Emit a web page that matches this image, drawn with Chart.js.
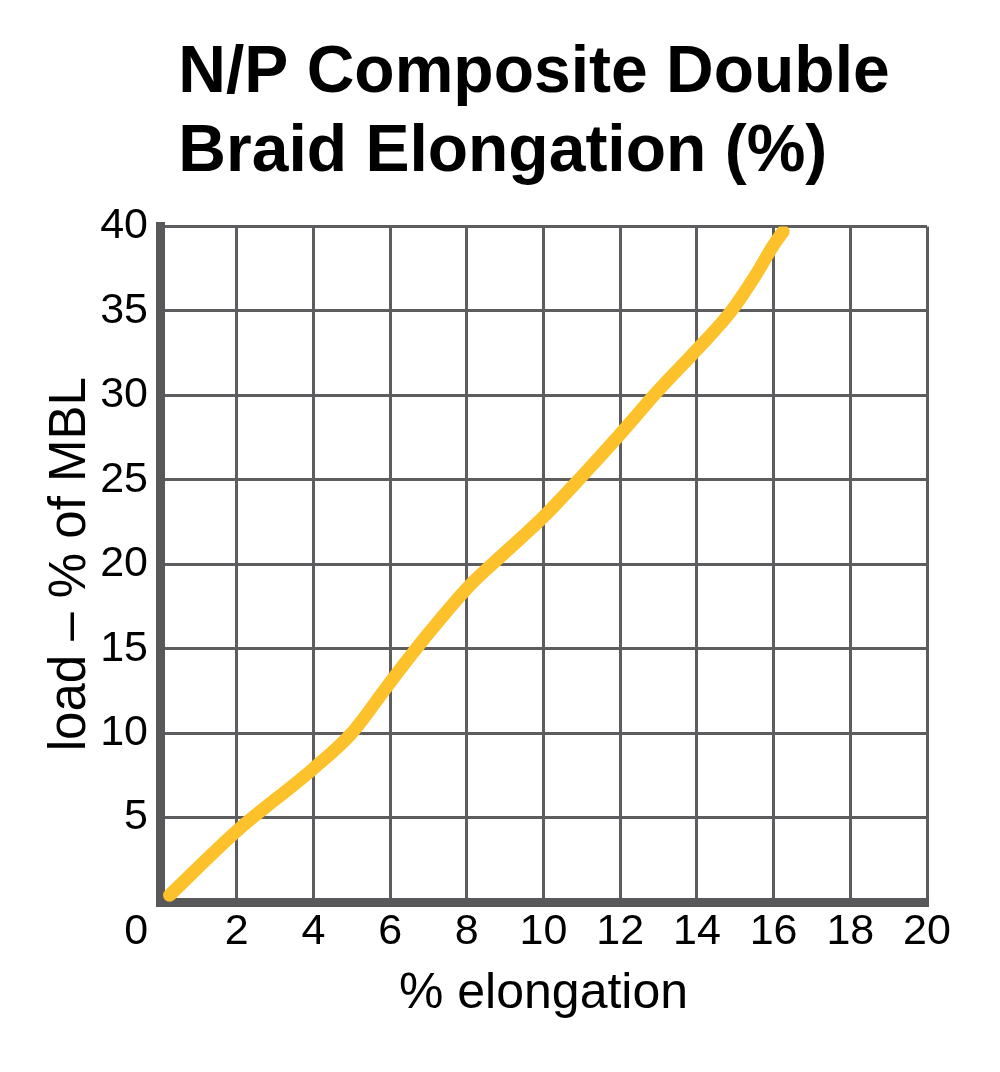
<!DOCTYPE html>
<html>
<head>
<meta charset="utf-8">
<script src="https://cdn.jsdelivr.net/npm/chart.js@4.4.1/dist/chart.umd.min.js"></script>
<style>
  html, body { margin: 0; padding: 0; background: #fff; }
  #wrap { width: 1000px; height: 1072px; }
</style>
</head>
<body>
<div id="wrap"><canvas id="elongChart"></canvas></div>
<script>
// values (x = % elongation, y = load % of MBL)
const elongation = [0.25, 2, 4, 5, 6, 7, 8.1, 9, 10, 11, 12, 13, 14, 14.9, 15.5, 16, 16.25];
const load = [0.4, 4.2, 7.9, 10, 13, 15.9, 18.8, 20.7, 22.8, 25.2, 27.7, 30.3, 32.7, 35, 37, 38.9, 39.7];

const titleLines = [' N/P Composite Double', ' Braid Elongation (%)'];
const xTitle = '% elongation';
const yTitle = 'load \u2013 % of MBL';

const gridColor = '#5d5d5f';
const axisColor = '#58585a';

Chart.defaults.font.family = "'Liberation Sans', Arial, sans-serif";
Chart.defaults.color = '#000';

const points = elongation.map((x, i) => ({ x: x, y: load[i] }));

const ctx = document.getElementById('elongChart').getContext('2d');

const myChart = new Chart(ctx, {
  type: 'line',
  data: {
    datasets: [{
      data: points,
      borderColor: '#fdc22b',
      borderWidth: 13,
      borderCapStyle: 'round',
      borderJoinStyle: 'round',
      cubicInterpolationMode: 'monotone',
      pointRadius: 0,
      fill: false
    }]
  },
  options: {
    responsive: true,
    maintainAspectRatio: false,
    animation: false,
    layout: { padding: { top: 0, right: 73, bottom: 0, left: 0 } },
    plugins: {
      legend: { display: false },
      tooltip: { enabled: false },
      title: {
        display: true,
        text: titleLines,
        align: 'start',
        fullSize: false,
        color: '#000',
        font: { size: 66, weight: 'bold', lineHeight: 1.2 },
        padding: { top: 34, bottom: 34 }
      }
    },
    scales: {
      x: {
        type: 'linear',
        min: 0,
        max: 20,
        z: 1,
        afterFit: s => { s.height = 170; },
        grid: { color: gridColor, lineWidth: 3, drawTicks: false },
        border: { display: true, color: axisColor, width: 9 },
        ticks: {
          stepSize: 2,
          padding: 4,
          autoSkip: false,
          maxRotation: 0,
          minRotation: 0,
          font: { size: 43 },
          color: '#000',
          callback: v => (v === 0 ? '0    ' : v)
        },
        title: {
          display: true,
          text: xTitle,
          color: '#000',
          font: { size: 50, lineHeight: 1.2 },
          padding: { top: 0, bottom: 48 }
        }
      },
      y: {
        type: 'linear',
        min: 0,
        max: 40,
        z: 1,
        afterFit: s => { s.width = 160; },
        grid: { color: gridColor, lineWidth: 3, drawTicks: false },
        border: { display: true, color: axisColor, width: 9 },
        ticks: {
          stepSize: 5,
          padding: 12,
          font: { size: 43 },
          color: '#000',
          callback: v => (v === 0 ? '' : v)
        },
        title: {
          display: true,
          text: yTitle,
          color: '#000',
          font: { size: 51, lineHeight: 1.2 },
          padding: { top: 40, bottom: 0 }
        }
      }
    }
  }
});
</script>
</body>
</html>
